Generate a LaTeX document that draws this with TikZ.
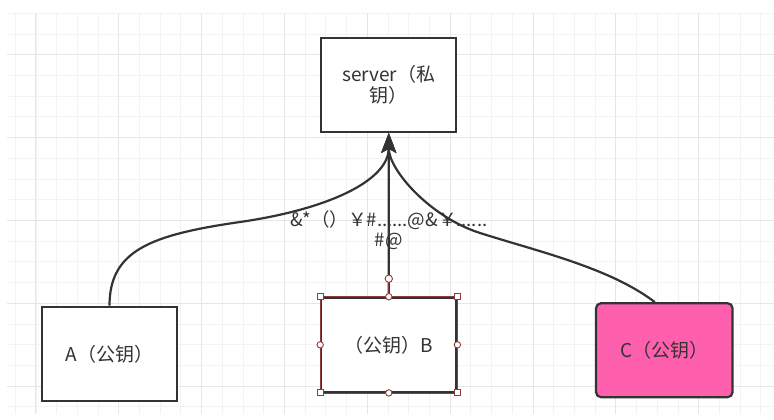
\documentclass[tikz,border=0pt]{standalone}
\usepackage{fontspec}
\setmainfont{Noto Sans CJK SC}
\usetikzlibrary{arrows.meta}
\definecolor{ink}{HTML}{333333}
\definecolor{gridminor}{HTML}{F3F3F3}
\definecolor{gridmajor}{HTML}{E6E6E6}
\definecolor{keypink}{HTML}{FF60AE}
\definecolor{handle}{HTML}{8E3B3B}

\begin{document}
\begin{tikzpicture}[
            x=1pt, y=-1pt,
            box/.style={draw=ink, line width=2.2pt, fill=white, minimum width=135pt, minimum height=94pt,
                        align=center, text=ink, inner sep=0pt, font=\fontsize{19}{21}\selectfont},
            link/.style={draw=ink, line width=2.2pt, -{Stealth[length=20pt, width=15pt, inset=4pt]}},
            msg/.style={align=center, text=ink, inner sep=0pt, font=\fontsize{18.5}{20}\selectfont},
            grip/.style={draw=handle, fill=white, line width=0.9pt}
        ]
        \useasboundingbox (0,0) rectangle (774,420);
        \fill[white] (0,0) rectangle (774,420);

        % background grid
        \foreach \k in {0,...,36}
            \draw[gridminor, line width=0.8pt] ({15.2+20.71*\k},13.3) -- ({15.2+20.71*\k},414);
        \foreach \k in {0,...,19}
            \draw[gridminor, line width=0.8pt] (7,{13.3+20.71*\k}) -- (774,{13.3+20.71*\k});
        \foreach \k in {1,5,...,33}
            \draw[gridmajor, line width=0.9pt] ({15.2+20.71*\k},13.3) -- ({15.2+20.71*\k},414);
        \foreach \k in {2,6,...,18}
            \draw[gridmajor, line width=0.9pt] (7,{13.3+20.71*\k}) -- (774,{13.3+20.71*\k});

        \node[box] (server) at (388.75,84.75) {server（私\\钥）};
        \node[box] (pubA) at (109.5,353.8) {A（公钥）};
        \node[box] (pubB) at (388.8,344.8) {（公钥）B};
        \node[box, fill=keypink, rounded corners=5pt, minimum width=136.5pt] (pubC) at (664.3,350.2) {C（公钥）};

        \draw[link] (pubB.north) -- (server.south);
        \draw[link] (pubA.north) .. controls +(0,-55) and (150,235) .. (240,222)
            .. controls (330,209) and (388.75,180) .. (server.south);
        \draw[link] ([xshift=-9.5pt]pubC.north) .. controls (610,268) and (540,252) .. (480,233)
            .. controls (430,217) and (388.75,170) .. (server.south);

        \node[msg] (cipher) at (388.75,230) {\&*（）￥\#......@\&￥......\\\#@};

        % selection handles on B
        \coordinate (bend) at ([yshift=18pt]pubB.north);
        \draw[handle, line width=0.8pt] (pubB.north west) rectangle (pubB.south east);
        \draw[handle, line width=1pt] (bend) -- (pubB.north);
        \foreach \c in {north west, north east, south west, south east}
            \draw[grip] ([shift={(-3,-3)}]pubB.\c) rectangle +(6,6);
        \foreach \c in {north, south, east, west}
            \draw[grip] (pubB.\c) circle[radius=3.2pt];
        \draw[grip] (bend) circle[radius=3.7pt];
    \end{tikzpicture}
\end{document}
